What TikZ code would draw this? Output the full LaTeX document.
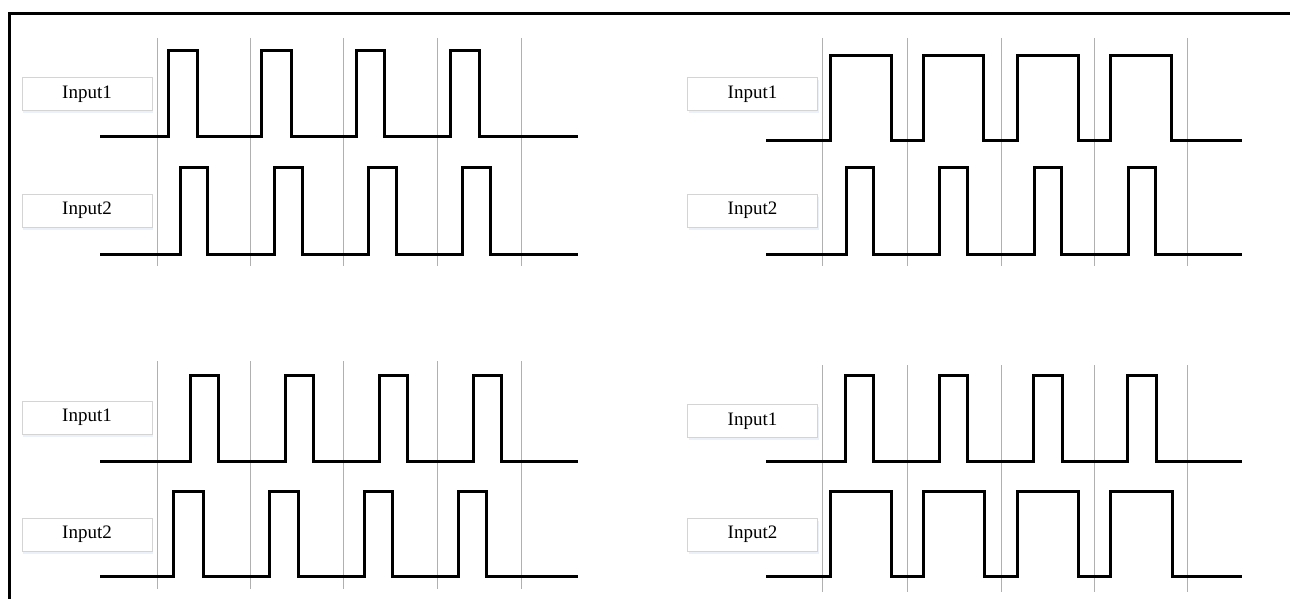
\documentclass[tikz,border=0pt]{standalone}
\usepackage{fontspec}
\setmainfont{Liberation Serif}
\usetikzlibrary{shadows}
\newcommand\mywave[5]{%
  \draw[sigline] (#1,#3) \foreach \a/\b in {#5} { -- (\a,#3) -- (\a,#4) -- (\b,#4) -- (\b,#3) } -- (#2,#3);}
\begin{document}
\begin{tikzpicture}[x=1pt,y=-1pt,
  sigline/.style={line width=3pt, line join=miter, line cap=butt},
  gridline/.style={line width=1pt, draw={rgb,255:red,176;green,176;blue,176}},
  framel/.style={line width=3pt, line cap=butt},
  lblbox/.style={draw={rgb,255:red,212;green,212;blue,212}, line width=0.9pt, fill=white,
    minimum width=130pt, minimum height=33pt, inner sep=0pt,
    font=\fontsize{19}{22}\selectfont,
    drop shadow={shadow xshift=1pt, shadow yshift=-2.5pt, opacity=0.35,
      fill={rgb,255:red,200;green,212;blue,235}}}
  ]
\useasboundingbox (0,0) rectangle (1290,599);
% frame
\draw[framel] (1291,14) -- (9,14) -- (9,600);
% grid lines
\foreach \x in {157,250,343,437,521} {
  \draw[gridline] (\x,38) -- (\x,266);
  \draw[gridline] (\x,361) -- (\x,589);
}
\foreach \x in {822,907,1001,1094,1187} {
  \draw[gridline] (\x,38) -- (\x,266);
  \draw[gridline] (\x,365) -- (\x,592);
}
% labels
\node[lblbox] (tlA) at (87,94) {Input1};
\node[lblbox] (tlB) at (87,210.5) {Input2};
\node[lblbox] (trA) at (752.5,94) {Input1};
\node[lblbox] (trB) at (752.5,210.5) {Input2};
\node[lblbox] (blA) at (87,417.5) {Input1};
\node[lblbox] (blB) at (87,534.5) {Input2};
\node[lblbox] (brA) at (752.5,421) {Input1};
\node[lblbox] (brB) at (752.5,534.5) {Input2};
% waves top-left
\mywave{100}{578}{137}{51}{168/197,261/291,356/384,450/479}
\mywave{100}{578}{254}{167}{180/207,274/302,368/396,462/490}
% waves top-right
\mywave{766}{1242}{141}{56}{830/891,923/983,1017/1078,1110/1171}
\mywave{766}{1242}{254}{167}{846/873,939/967,1034/1061,1128/1155}
% waves bottom-left
\mywave{100}{578}{461}{375}{190/218,285/313,379/407,473/501}
\mywave{100}{578}{576}{491}{173/203,269/298,364/392,458/486}
% waves bottom-right
\mywave{766}{1242}{461}{375}{845/873,939/967,1033/1062,1127/1156}
\mywave{766}{1242}{576}{491}{830/891,923/984,1017/1078,1110/1172}
\end{tikzpicture}
\end{document}
